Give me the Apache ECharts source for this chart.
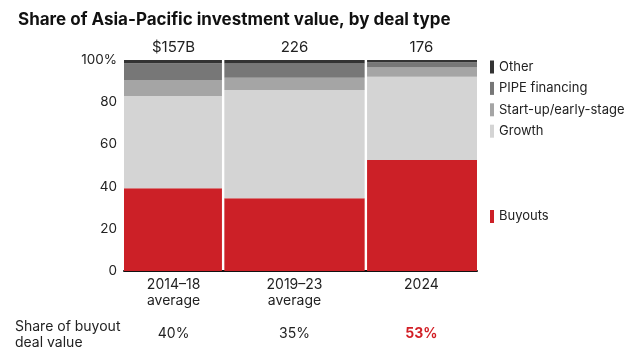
<!DOCTYPE html>
<html>
<head>
<meta charset="utf-8">
<script src="https://cdn.jsdelivr.net/npm/echarts@6/dist/echarts.min.js"></script>
<style>html,body{margin:0;padding:0;background:#fff}#c{width:640px;height:360px}</style>
</head>
<body>
<div id="c"></div>
<script>
var categories = ['2014–18\naverage', '2019–23\naverage', '2024'];
var totalLabels = ['$157B', '226', '176'];
var totals = [157, 226, 176];
var buyoutShareLabels = ['40%', '35%', '53%'];
var buyouts = [39.2, 34.5, 52.6];
var growth = [43.7, 51.3, 39.5];
var startup = [7.6, 5.8, 4.3];
var pipe = [8.0, 6.8, 2.5];
var other = [1.5, 1.6, 1.1];
var yTicks = [0, 20, 40, 60, 80, 100];

var segNames = ['Buyouts', 'Growth', 'Start-up/early-stage', 'PIPE financing', 'Other'];
var segValues = [buyouts, growth, startup, pipe, other];
var segColors = ['#cc2027', '#d4d4d4', '#a5a5a5', '#777777', '#333333'];

var xStarts = [];
var acc = 0;
for (var i = 0; i < totals.length; i++) { xStarts.push(acc); acc += totals[i]; }
var grandTotal = acc;

var FONT = 'Inter';
var TXT = '#222';

function rectItem(params, api) {
  var x0 = api.value(0), x1 = api.value(1), y0 = api.value(2), y1 = api.value(3);
  var p0 = api.coord([x0, y1]);
  var p1 = api.coord([x1, y0]);
  var gapL = x0 === 0 ? 0 : 1.2;
  var gapR = x1 >= grandTotal ? 0 : 1.2;
  return {
    type: 'rect',
    shape: { x: p0[0] + gapL, y: p0[1], width: p1[0] - p0[0] - gapL - gapR, height: p1[1] - p0[1] },
    style: { fill: api.visual('color') }
  };
}

var series = [];
var base = [0, 0, 0];
segNames.forEach(function (name, s) {
  var data = [];
  for (var i = 0; i < totals.length; i++) {
    var v = segValues[s][i];
    var top = s === segNames.length - 1 ? 100 : base[i] + v;
    data.push([xStarts[i], xStarts[i] + totals[i], base[i], top]);
    base[i] += v;
  }
  series.push({
    name: name,
    type: 'custom',
    renderItem: rectItem,
    itemStyle: { color: segColors[s] },
    encode: { x: [0, 1], y: [2, 3] },
    data: data,
    z: 2
  });
});

var labelData = [];
for (var i = 0; i < totals.length; i++) {
  labelData.push([xStarts[i] + totals[i] / 2, i]);
}
series.push({
  name: 'labels',
  type: 'custom',
  silent: true,
  z: 5,
  renderItem: function (params, api) {
    var cx = api.value(0), idx = api.value(1);
    var top = api.coord([cx, 100]);
    var bot = api.coord([cx, 0]);
    return {
      type: 'group',
      children: [
        { type: 'text', x: top[0], y: top[1] - 13, style: { text: totalLabels[idx], fill: TXT, font: '15px ' + FONT, align: 'center', verticalAlign: 'middle' } },
        { type: 'text', x: bot[0], y: bot[1] + 6, style: { text: categories[idx], fill: TXT, font: '14px ' + FONT, align: 'center', verticalAlign: 'top', lineHeight: 16 } },
        { type: 'text', x: bot[0], y: bot[1] + 63, style: { text: buyoutShareLabels[idx], fill: idx === 2 ? '#d21f26' : TXT, font: (idx === 2 ? 'bold ' : '') + '14px ' + FONT, align: 'center', verticalAlign: 'middle' } }
      ]
    };
  },
  encode: { x: 0, y: 1 },
  data: labelData
});

var legendCommon = {
  orient: 'vertical', left: 490, padding: 0,
  icon: 'rect', itemWidth: 4, itemHeight: 13,
  textStyle: { fontFamily: FONT, fontSize: 13, color: TXT },
  selectedMode: false
};

var chart = echarts.init(document.getElementById('c'), null, { renderer: 'canvas' });
chart.setOption({
  animation: false,
  backgroundColor: '#fff',
  title: {
    text: 'Share of Asia-Pacific investment value, by deal type',
    left: 13, top: 6,
    textStyle: { fontFamily: FONT, fontWeight: 'bold', fontSize: 17, color: '#111' }
  },
  grid: { left: 124, right: 163, top: 60, bottom: 89 },
  xAxis: {
    type: 'value', min: 0, max: grandTotal,
    axisLine: { show: true, onZero: false, lineStyle: { color: '#111', width: 2 } },
    axisTick: { show: false }, axisLabel: { show: false }, splitLine: { show: false }
  },
  yAxis: {
    type: 'value', min: 0, max: 100, interval: 20,
    axisLine: { show: false }, axisTick: { show: false }, splitLine: { show: false },
    axisLabel: {
      margin: 7, color: TXT, fontFamily: FONT, fontSize: 13.5,
      formatter: function (v) { return v === yTicks[yTicks.length - 1] ? v + '%' : String(v); }
    }
  },
  legend: [
    Object.assign({}, legendCommon, { data: ['Other', 'PIPE financing', 'Start-up/early-stage', 'Growth'], top: 60.5, itemGap: 8.4 }),
    Object.assign({}, legendCommon, { data: ['Buyouts'], top: 210 })
  ],
  graphic: [
    { type: 'text', left: 15, top: 319, style: { text: 'Share of buyout\ndeal value', fill: TXT, font: '14px ' + FONT, lineHeight: 16 } }
  ],
  series: series
});
</script>
</body>
</html>
